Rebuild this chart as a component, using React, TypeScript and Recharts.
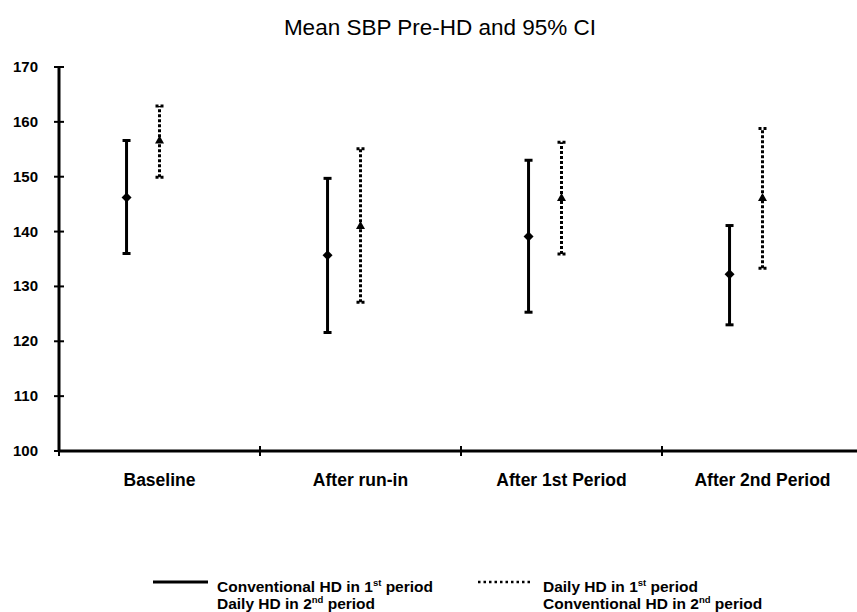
import React from "react";
import { ScatterChart, Scatter, XAxis, YAxis, ErrorBar } from "recharts";

const categories = ["Baseline", "After run-in", "After 1st Period", "After 2nd Period"];

// Conventional HD in 1st period / Daily HD in 2nd period (solid)
const convMean = [146.2, 135.7, 139.1, 132.2];
const convLow = [136.0, 121.6, 125.3, 123.0];
const convHigh = [156.6, 149.7, 153.0, 141.1];

// Daily HD in 1st period / Conventional HD in 2nd period (dotted)
const dailyMean = [156.6, 141.0, 146.1, 146.1];
const dailyLow = [149.9, 127.1, 135.9, 133.3];
const dailyHigh = [162.9, 155.1, 156.3, 158.8];

const yTicks = [100, 110, 120, 130, 140, 150, 160, 170];
const xTicks = [0, 0.5, 1, 1.5, 2, 2.5, 3, 3.5, 4];

const FONT = "'Liberation Sans', Arial, sans-serif";
const CONV_OFFSET = -0.164;
const DAILY_OFFSET = 0;

function buildSeries(mean: number[], low: number[], high: number[], offset: number) {
  return mean.map((m, i) => ({
    x: i + 0.5 + offset,
    y: m,
    err: [m - low[i], high[i] - m],
  }));
}

const convData = buildSeries(convMean, convLow, convHigh, CONV_OFFSET);
const dailyData = buildSeries(dailyMean, dailyLow, dailyHigh, DAILY_OFFSET);

const YTick = (props: any) => {
  const { x, y, payload } = props;
  return (
    <g>
      <line x1={x - 5} x2={x + 5} y1={y} y2={y} stroke="#000" strokeWidth={2} />
      <text
        x={x - 21}
        y={y + 5}
        textAnchor="end"
        fontFamily={FONT}
        fontWeight="bold"
        fontSize={15}
        fill="#000"
      >
        {payload.value}
      </text>
    </g>
  );
};

const XTick = (props: any) => {
  const { x, y, payload } = props;
  const v = payload.value;
  if (Number.isInteger(v)) {
    return <line x1={x} x2={x} y1={y - 5} y2={y + 5} stroke="#000" strokeWidth={2} />;
  }
  return (
    <text
      x={x}
      y={y + 35}
      textAnchor="middle"
      fontFamily={FONT}
      fontWeight="bold"
      fontSize={17.5}
      fill="#000"
    >
      {categories[Math.floor(v)]}
    </text>
  );
};

const Diamond = (props: any) => {
  const { cx, cy } = props;
  return <polygon points={`${cx},${cy - 5} ${cx + 5},${cy} ${cx},${cy + 5} ${cx - 5},${cy}`} fill="#000" />;
};

const Triangle = (props: any) => {
  const { cx, cy } = props;
  return <polygon points={`${cx},${cy - 5} ${cx + 4.5},${cy + 3} ${cx - 4.5},${cy + 3}`} fill="#000" />;
};

const LegendText = ({ x, y, lines }: { x: number; y: number; lines: [string, string, string][] }) => (
  <text fontFamily={FONT} fontWeight="bold" fontSize={15.5} fill="#000">
    {lines.map(([a, sup, b], i) => (
      <tspan key={i} x={x} y={y + i * 17}>
        {a}
        <tspan fontSize={9.5} dy={-6}>{sup}</tspan>
        <tspan dy={6}>{b}</tspan>
      </tspan>
    ))}
  </text>
);

export default function App() {
  return (
    <div style={{ position: "absolute", left: 0, top: 0, width: 857, height: 612, overflow: "hidden", background: "#fff" }}>
      <ScatterChart width={865} height={612} margin={{ top: 67, right: 2, bottom: 131, left: 0 }}>
        <XAxis
          type="number"
          dataKey="x"
          domain={[0, 4]}
          ticks={xTicks}
          interval={0}
          tick={<XTick />}
          tickLine={false}
          tickSize={0}
          tickMargin={0}
          height={30}
          axisLine={{ stroke: "#000", strokeWidth: 3 }}
        />
        <YAxis
          type="number"
          dataKey="y"
          domain={[100, 170]}
          ticks={yTicks}
          interval={0}
          tick={<YTick />}
          tickLine={false}
          tickSize={0}
          tickMargin={0}
          width={59}
          axisLine={{ stroke: "#000", strokeWidth: 3 }}
        />
        <Scatter data={convData} fill="#000" shape={<Diamond />} isAnimationActive={false}>
          <ErrorBar dataKey="err" direction="y" width={4} stroke="#000" strokeWidth={3} isAnimationActive={false} />
        </Scatter>
        <Scatter data={dailyData} fill="#000" shape={<Triangle />} isAnimationActive={false}>
          <ErrorBar
            dataKey="err"
            direction="y"
            width={4}
            stroke="#000"
            strokeWidth={3}
            strokeDasharray="3 2"
            isAnimationActive={false}
          />
        </Scatter>
      </ScatterChart>
      <svg width={857} height={612} style={{ position: "absolute", left: 0, top: 0, pointerEvents: "none" }}>
        <text x={440} y={35} textAnchor="middle" fontFamily={FONT} fontSize={22.5} fill="#000">
          Mean SBP Pre-HD and 95% CI
        </text>
        <line x1={153} x2={208} y1={582} y2={582} stroke="#000" strokeWidth={3} />
        <LegendText
          x={217}
          y={592}
          lines={[
            ["Conventional HD in 1", "st", " period"],
            ["Daily HD in 2", "nd", " period"],
          ]}
        />
        <line x1={478} x2={532} y1={582} y2={582} stroke="#000" strokeWidth={2.5} strokeDasharray="2.5 3" />
        <LegendText
          x={543}
          y={592}
          lines={[
            ["Daily HD in 1", "st", " period"],
            ["Conventional HD in 2", "nd", " period"],
          ]}
        />
      </svg>
    </div>
  );
}
